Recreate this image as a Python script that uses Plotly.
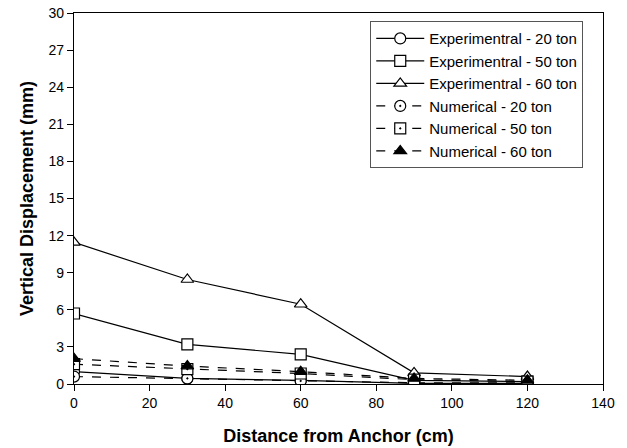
import plotly.graph_objects as go

distance = [0, 30, 60, 90, 120]
exp_20 = [1.0, 0.45, 0.3, 0.05, 0.05]
exp_50 = [5.7, 3.2, 2.4, 0.3, 0.2]
exp_60 = [11.45, 8.45, 6.45, 0.9, 0.6]
num_20 = [0.6, 0.45, 0.25, 0.1, 0.1]
num_50 = [1.6, 1.2, 0.85, 0.35, 0.2]
num_60 = [2.05, 1.45, 1.0, 0.45, 0.3]

series = [
    ("Experimentral - 20 ton", exp_20, "solid", "circle", "white"),
    ("Experimentral - 50 ton", exp_50, "solid", "square", "white"),
    ("Experimentral - 60 ton", exp_60, "solid", "triangle-up", "white"),
    ("Numerical - 20 ton", num_20, "dash", "circle-dot", "white"),
    ("Numerical - 50 ton", num_50, "dash", "square-dot", "white"),
    ("Numerical - 60 ton", num_60, "dash", "triangle-up", "black"),
]

fig = go.Figure()
for name, vals, dash, sym, fill in series:
    fig.add_trace(go.Scatter(
        x=distance, y=vals, name=name, mode="lines+markers",
        line=dict(color="black", width=1.2, dash=dash),
        marker=dict(symbol=sym, size=11, color=fill,
                    line=dict(color="black", width=1.2)),
    ))

fig.update_layout(
    width=627, height=448,
    margin=dict(l=74, r=24, t=13, b=64, autoexpand=False),
    paper_bgcolor="white", plot_bgcolor="white",
    font=dict(family="Arial, Liberation Sans, sans-serif", size=14, color="black"),
    showlegend=True,
    legend=dict(
        x=0.56, y=0.978, xanchor="left", yanchor="top",
        bordercolor="#555555", borderwidth=1, bgcolor="white",
        font=dict(size=15), itemwidth=48, tracegroupgap=0,
    ),
    xaxis=dict(
        range=[0, 140], tickvals=[0, 20, 40, 60, 80, 100, 120, 140],
        showgrid=False, zeroline=False,
        showline=True, linecolor="black", linewidth=1.2, mirror=True,
        ticks="outside", ticklen=6, tickcolor="black", tickfont=dict(size=14),
        title=dict(text="<b>Distance from Anchor (cm)</b>", font=dict(size=18), standoff=19),
    ),
    yaxis=dict(
        range=[0, 30], tickvals=list(range(0, 31, 3)),
        showgrid=False, zeroline=False,
        showline=True, linecolor="black", linewidth=1.2, mirror=True,
        ticks="outside", ticklen=6, tickcolor="black", tickfont=dict(size=14),
        title=dict(text="<b>Vertical Displacement (mm)</b>", font=dict(size=18), standoff=10),
    ),
)

fig.write_html("out.html")
